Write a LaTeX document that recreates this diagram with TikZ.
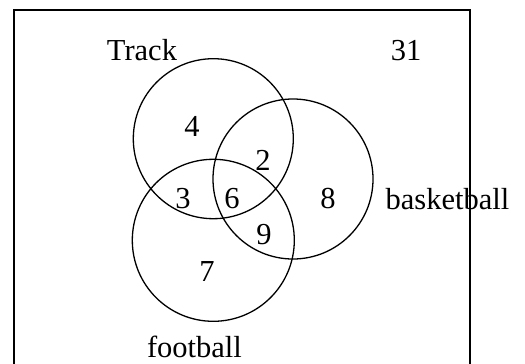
\documentclass[tikz,border=0pt]{standalone}
\usepackage{fontspec}
\setmainfont{Liberation Serif}
\tikzset{
  setc/.style={draw=black, line width=1.3pt, circle, minimum size=160pt, inner sep=0pt},
  lbl/.style={font=\fontsize{30.5}{36}\selectfont, inner sep=0pt, anchor=center},
  frame/.style={draw=black, line width=2pt}
}
\begin{document}
\begin{tikzpicture}[x=1pt,y=-1pt]
\useasboundingbox (0,0) rectangle (525,364);
% universe frame (bottom edge lies outside the picture)
\coordinate (bl) at (14,370);
\coordinate (tl) at (14,10);
\coordinate (tr) at (469.5,10);
\coordinate (br) at (469.5,370);
\draw[frame] (bl) -- (tl) -- (tr) -- (br);
% circles
\node[setc] (track) at (213.3,138.7) {};
\node[setc] (basket) at (293,179) {};
\node[setc, minimum size=162pt] (foot) at (213.3,240.3) {};
% labels
\node[lbl] (ltrack) at (142,50) {Track};
\node[lbl] (l31) at (406,51) {31};
\node[lbl] (lbasket) at (447.5,199) {basketball};
\node[lbl] (lfoot) at (194.5,347) {football};
% region counts
\node[lbl] (n4) at (192,126) {4};
\node[lbl] (n2) at (263,160) {2};
\node[lbl] (n3) at (183,199) {3};
\node[lbl] (n6) at (232,199) {6};
\node[lbl] (n8) at (328,199) {8};
\node[lbl] (n9) at (264,235) {9};
\node[lbl] (n7) at (207,272) {7};
\end{tikzpicture}
\end{document}
